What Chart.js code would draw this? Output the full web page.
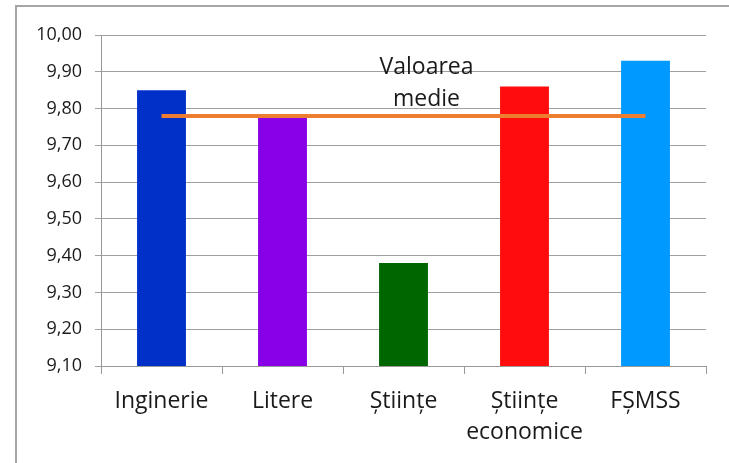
<!DOCTYPE html>
<html>
<head>
<meta charset="utf-8">
<script src="https://cdn.jsdelivr.net/npm/chart.js@4"></script>
<style>
  html, body { margin: 0; padding: 0; background: #ffffff; }
  #wrap { position: relative; width: 729px; height: 463px; }
</style>
</head>
<body>
<div id="wrap"><canvas id="c" width="729" height="463"></canvas></div>
<script>
const categories = ["Inginerie", "Litere", "Științe", ["Științe", "economice"], "FȘMSS"];
const values = [9.85, 9.78, 9.38, 9.86, 9.93];
const barColors = ["#0030C8", "#8800E8", "#006600", "#FF0D0D", "#0099FF"];
const averageValue = 9.78;
const averageLine = [averageValue, averageValue, averageValue, averageValue, averageValue];
const averageLabel = ["Valoarea", "medie"];
const yMin = 9.1, yMax = 10.0, yStep = 0.1;

const FONT = "'Open Sans', sans-serif";

const framePlugin = {
  id: 'frame',
  beforeDraw(chart) {
    const ctx = chart.ctx;
    ctx.save();
    ctx.strokeStyle = '#a6a6a6';
    ctx.lineWidth = 2;
    ctx.beginPath();
    ctx.moveTo(16, 463);
    ctx.lineTo(16, 6);
    ctx.lineTo(729, 6);
    ctx.stroke();
    ctx.restore();
  }
};

const labelPlugin = {
  id: 'avgLabel',
  afterDraw(chart) {
    const ctx = chart.ctx;
    const xs = chart.scales.x, ys = chart.scales.y;
    const x = xs.getPixelForValue(2) + 23;
    const y = ys.getPixelForValue(averageValue);
    ctx.save();
    ctx.fillStyle = '#1a1a1a';
    ctx.font = "23px " + FONT;
    ctx.textAlign = 'center';
    ctx.textBaseline = 'alphabetic';
    ctx.fillText(averageLabel[0], x, y - 42);
    ctx.fillText(averageLabel[1], x, y - 10);
    ctx.restore();
  }
};

new Chart(document.getElementById('c'), {
  type: 'bar',
  data: {
    labels: categories,
    datasets: [
      {
        type: 'line',
        data: averageLine,
        borderColor: '#ED7D31',
        borderWidth: 4,
        pointRadius: 0,
        fill: false,
        order: 0
      },
      {
        type: 'bar',
        data: values,
        backgroundColor: barColors,
        borderWidth: 0,
        barPercentage: 0.404,
        categoryPercentage: 1.0,
        order: 1
      }
    ]
  },
  options: {
    responsive: false,
    animation: false,
    devicePixelRatio: 1,
    layout: { padding: { top: 35, right: 23, left: 0, bottom: 0 } },
    plugins: { legend: { display: false }, tooltip: { enabled: false } },
    scales: {
      x: {
        offset: true,
        grid: { display: true, offset: true, drawOnChartArea: false, drawTicks: true, tickLength: 8, color: '#999999', lineWidth: 1 },
        border: { display: true, color: '#999999', width: 1 },
        ticks: { color: '#1a1a1a', font: { family: FONT, size: 23, lineHeight: 1.35 }, padding: 12, maxRotation: 0, autoSkip: false },
        afterFit(scale) { scale.height = 97; }
      },
      y: {
        min: yMin, max: yMax,
        grid: { color: '#a0a0a0', lineWidth: 1, drawTicks: true, tickLength: 6 },
        border: { display: true, color: '#999999', width: 1 },
        ticks: {
          stepSize: yStep,
          color: '#1a1a1a',
          font: { family: FONT, size: 18 },
          padding: 13,
          callback: (v) => Number(v).toFixed(2).replace('.', ',')
        },
        afterFit(scale) { scale.width = 101; }
      }
    }
  },
  plugins: [framePlugin, labelPlugin]
});
</script>
</body>
</html>
